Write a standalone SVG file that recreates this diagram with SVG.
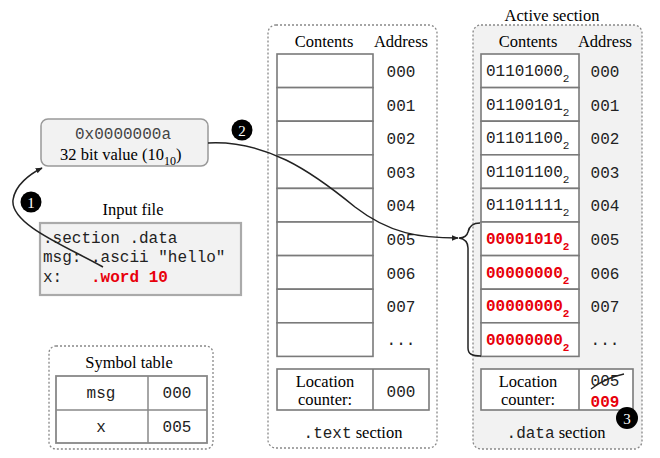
<svg xmlns="http://www.w3.org/2000/svg" width="660" height="458" viewBox="0 0 660 458">
<style>
.serif{font-family:"Liberation Serif","Times New Roman",serif;font-size:16.5px;fill:#000}
.mono{font-family:"Liberation Mono","Courier New",monospace;font-size:16px;fill:#222;white-space:pre}
.red{fill:#e8000b;font-weight:bold}
.sect{fill:#fff;stroke:#888;stroke-width:1.3;stroke-dasharray:2 2}
.cell{fill:#fff;stroke:#7a7a7a;stroke-width:1.6}
.conn{fill:none;stroke:#222;stroke-width:1.5}
.badge circle{fill:#000}
.badge text{font-family:"Liberation Serif",serif;font-size:15px;fill:#fff;text-anchor:middle}
.mid{text-anchor:middle}
</style>
<defs>
<marker id="ah" viewBox="0 0 10 10" refX="9" refY="5" markerWidth="7" markerHeight="7" orient="auto" markerUnits="userSpaceOnUse">
<path d="M0,1 L10,5 L0,9 z" fill="#222"/>
</marker>
</defs>
<rect width="660" height="458" fill="#fff"/>

<g id="value">
<rect x="41" y="119" width="167" height="47" rx="7" fill="#f2f2f2" stroke="#999" stroke-width="1.5"/>
<text class="mono mid" x="123" y="139" style="fill:#444">0x0000000a</text>
<text class="serif" x="60" y="160">32 bit value (10<tspan font-size="12" dy="5">10</tspan><tspan dy="-5">)</tspan></text>
</g>

<g id="input-file">
<text class="serif mid" x="133" y="215">Input file</text>
<rect x="40" y="223" width="201" height="72" fill="#f2f2f2" stroke="#aaa" stroke-width="2.2"/>
<text class="mono" x="43" y="243" xml:space="preserve">.section .data</text>
<text class="mono" x="43" y="262" xml:space="preserve">msg: .ascii "hello"</text>
<text class="mono" x="43" y="282" xml:space="preserve">x:   <tspan class="red">.word 10</tspan></text>
</g>

<g id="symbol-table">
<rect class="sect" x="49" y="346" width="164" height="103" rx="7"/>
<text class="serif mid" x="129" y="368">Symbol table</text>
<rect x="56" y="376" width="151" height="67" fill="#fff" stroke="#888" stroke-width="1.8"/>
<line x1="56" y1="410" x2="207" y2="410" stroke="#888" stroke-width="1.5"/>
<line x1="148" y1="376" x2="148" y2="443" stroke="#888" stroke-width="1.5"/>
<text class="mono mid" x="101" y="398">msg</text>
<text class="mono mid" x="177" y="398">000</text>
<text class="mono mid" x="101" y="432">x</text>
<text class="mono mid" x="177" y="432">005</text>
</g>

<g id="text-section">
<rect class="sect" x="268" y="25" width="169" height="423" rx="8"/>
<text class="serif mid" x="324" y="47">Contents</text>
<text class="serif mid" x="401" y="47">Address</text>
<rect class="cell" x="277" y="54" width="96" height="33.6"/>
<rect class="cell" x="277" y="87.6" width="96" height="33.6"/>
<rect class="cell" x="277" y="121.2" width="96" height="33.6"/>
<rect class="cell" x="277" y="154.8" width="96" height="33.6"/>
<rect class="cell" x="277" y="188.4" width="96" height="33.6"/>
<rect class="cell" x="277" y="222" width="96" height="33.6"/>
<rect class="cell" x="277" y="255.6" width="96" height="33.6"/>
<rect class="cell" x="277" y="289.2" width="96" height="33.6"/>
<rect class="cell" x="277" y="322.8" width="96" height="33.6"/>
<text class="mono mid" x="401" y="77">000</text>
<text class="mono mid" x="401" y="110.6">001</text>
<text class="mono mid" x="401" y="144.2">002</text>
<text class="mono mid" x="401" y="177.8">003</text>
<text class="mono mid" x="401" y="211.4">004</text>
<text class="mono mid" x="401" y="245">005</text>
<text class="mono mid" x="401" y="278.6">006</text>
<text class="mono mid" x="401" y="312.2">007</text>
<text class="mono mid" x="401" y="345">...</text>
<rect class="cell" x="277" y="369" width="152" height="41"/>
<line x1="373" y1="369" x2="373" y2="410" stroke="#7a7a7a" stroke-width="1.6"/>
<text class="serif mid" x="325" y="387">Location</text>
<text class="serif mid" x="325" y="405">counter:</text>
<text class="mono mid" x="401" y="397">000</text>
<text class="serif mid" x="353" y="438"><tspan class="mono">.text</tspan> section</text>
</g>

<g id="data-section">
<text class="serif mid" x="552" y="21">Active section</text>
<rect class="sect" x="473" y="25" width="169" height="424" rx="8" style="fill:#f2f2f2"/>
<text class="serif mid" x="528" y="47">Contents</text>
<text class="serif mid" x="605" y="47">Address</text>
<rect class="cell" x="481" y="54" width="98" height="33.6"/>
<rect class="cell" x="481" y="87.6" width="98" height="33.6"/>
<rect class="cell" x="481" y="121.2" width="98" height="33.6"/>
<rect class="cell" x="481" y="154.8" width="98" height="33.6"/>
<rect class="cell" x="481" y="188.4" width="98" height="33.6"/>
<rect class="cell" x="481" y="222" width="98" height="33.6"/>
<rect class="cell" x="481" y="255.6" width="98" height="33.6"/>
<rect class="cell" x="481" y="289.2" width="98" height="33.6"/>
<rect class="cell" x="481" y="322.8" width="98" height="33.6"/>
<text class="mono" x="486" y="76">01101000<tspan font-size="11" dy="6">2</tspan></text>
<text class="mono" x="486" y="109.6">01100101<tspan font-size="11" dy="6">2</tspan></text>
<text class="mono" x="486" y="143.2">01101100<tspan font-size="11" dy="6">2</tspan></text>
<text class="mono" x="486" y="176.8">01101100<tspan font-size="11" dy="6">2</tspan></text>
<text class="mono" x="486" y="210.4">01101111<tspan font-size="11" dy="6">2</tspan></text>
<text class="mono red" x="486" y="244">00001010<tspan font-size="11" dy="6">2</tspan></text>
<text class="mono red" x="486" y="277.6">00000000<tspan font-size="11" dy="6">2</tspan></text>
<text class="mono red" x="486" y="311.2">00000000<tspan font-size="11" dy="6">2</tspan></text>
<text class="mono red" x="486" y="344.8">00000000<tspan font-size="11" dy="6">2</tspan></text>
<text class="mono mid" x="605" y="77">000</text>
<text class="mono mid" x="605" y="110.6">001</text>
<text class="mono mid" x="605" y="144.2">002</text>
<text class="mono mid" x="605" y="177.8">003</text>
<text class="mono mid" x="605" y="211.4">004</text>
<text class="mono mid" x="605" y="245">005</text>
<text class="mono mid" x="605" y="278.6">006</text>
<text class="mono mid" x="605" y="312.2">007</text>
<text class="mono mid" x="605" y="345">...</text>
<rect class="cell" x="481" y="369" width="152" height="41"/>
<line x1="579" y1="369" x2="579" y2="410" stroke="#7a7a7a" stroke-width="1.6"/>
<text class="serif mid" x="528" y="387">Location</text>
<text class="serif mid" x="528" y="405">counter:</text>
<text class="mono mid" x="605" y="386">005</text>
<path d="M591,389 Q605,378 624,374" fill="none" stroke="#222" stroke-width="1.3"/>
<text class="mono red mid" x="605" y="407">009</text>
<text class="serif mid" x="556" y="438"><tspan class="mono">.data</tspan> section</text>
</g>

<g id="connectors">
<path class="conn" d="M103,267 C70,248 10,225 13,200 C15,185 30,174 42,168" marker-end="url(#ah)"/>
<path class="conn" d="M208,143 C265,140 310,170 355,207 C390,234 420,238 458,238" marker-end="url(#ah)"/>
<path class="conn" d="M480,223 C472,223 469,227 468,232 C467,236 464,238 459,238 C465,239 468,242 468,248 L468,348 C468,354 472,356 481,356"/>
</g>

<g id="badge1" class="badge"><circle cx="31" cy="202" r="10.5"/><text x="31" y="207.5">1</text></g>
<g id="badge2" class="badge"><circle cx="242" cy="130" r="10.5"/><text x="242" y="135.5">2</text></g>
<g id="badge3" class="badge"><circle cx="627" cy="418" r="11"/><text x="627" y="423.5">3</text></g>
</svg>
